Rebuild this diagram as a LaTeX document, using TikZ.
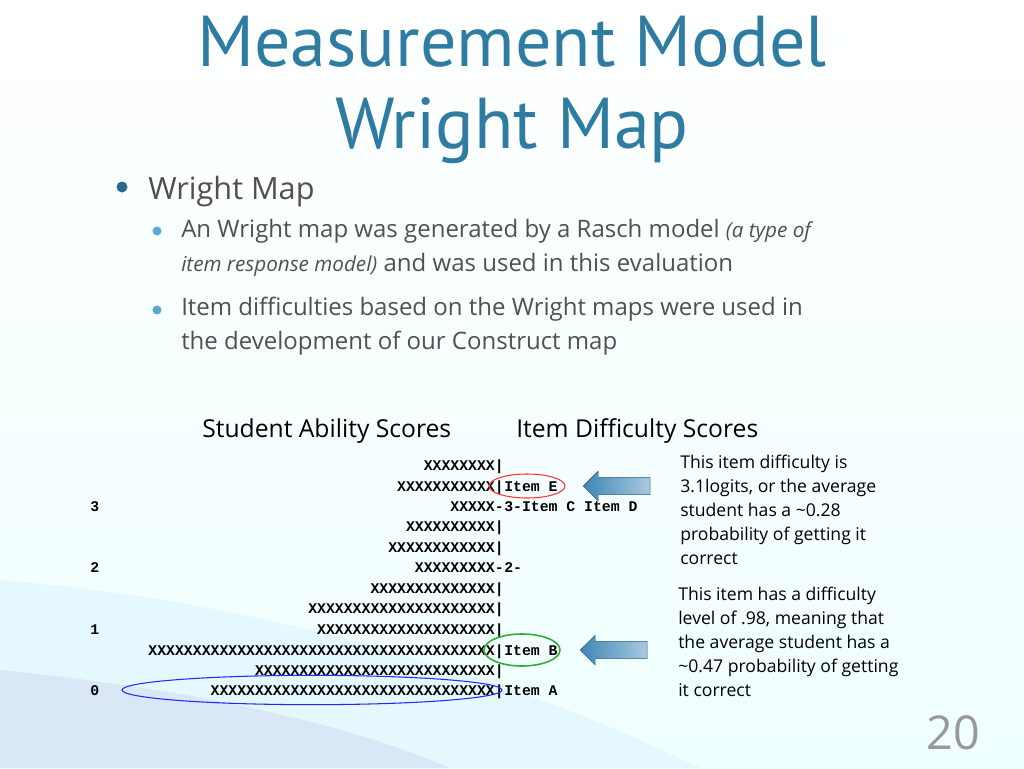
\documentclass[tikz,border=0pt]{standalone}
\usepackage{fontspec}
\setmainfont{Open Sans}
\newfontfamily\titlefont{PT Sans}
\newfontfamily\mapfont{Liberation Mono}
\usetikzlibrary{shapes.arrows,shapes.geometric}
\definecolor{titleblue}{HTML}{2F7CA3}
\definecolor{bodygray}{HTML}{505050}
\definecolor{dotblue}{HTML}{2A6A8C}
\definecolor{subdot}{HTML}{5BA9CF}
\definecolor{arrowblue}{HTML}{3F86B5}
\tikzset{
  maprow/.style={font=\mapfont\bfseries\fontsize{11.1}{12}\selectfont, inner sep=0pt, anchor=base east},
  mapitem/.style={font=\mapfont\bfseries\fontsize{11.1}{12}\selectfont, inner sep=0pt, anchor=base west},
  note/.style={font=\fontsize{13.2}{18}\selectfont, align=left, anchor=north west, inner sep=0pt, text=black},
  head/.style={font=\fontsize{18.5}{22}\selectfont, inner sep=0pt, anchor=base west},
  pointer/.style={single arrow, shape border rotate=180, draw=arrowblue!70!black, left color=arrowblue, right color=arrowblue!45, minimum height=50pt, minimum width=22pt, single arrow head extend=4pt, inner sep=5.5pt}
}
\begin{document}
\begin{tikzpicture}[x=0.75pt,y=-0.75pt]
	% background
	\shade[top color=white, bottom color=cyan!6] (0,0) rectangle (1024,768);
	\fill[cyan!15, opacity=.5] (0,580) .. controls (250,600) and (500,670) .. (700,768) -- (0,768) -- cycle;
	\fill[cyan!30!blue!20, opacity=.4] (0,670) .. controls (200,690) and (350,725) .. (450,768) -- (0,768) -- cycle;
	\useasboundingbox (0,0) rectangle (1024,768);
	
	% title and bullets
	\node[font=\titlefont\fontsize{54}{61}\selectfont, text=titleblue, align=center] (title) at (512,90) {Measurement Model\\Wright Map};
	\fill[dotblue] (122,187) circle (5.5);
	\node[font=\fontsize{23}{30}\selectfont, text=bodygray, anchor=base west, inner sep=0pt] (b1) at (148,199) {Wright Map};
	\fill[subdot] (157,231) circle (4.5);
	\fill[subdot] (157,310) circle (4.5);
	\node[font=\fontsize{18}{25.5}\selectfont, text=bodygray, anchor=north west, align=left, inner sep=0pt] (b2) at (181,219)
	  {An Wright map was generated by a Rasch model {\itshape\fontsize{15.5}{20}\selectfont (a type of}\\{\itshape\fontsize{15.5}{20}\selectfont item response model)} and was used in this evaluation};
	\node[font=\fontsize{18}{25.5}\selectfont, text=bodygray, anchor=north west, align=left, inner sep=0pt] (b3) at (181,297)
	  {Item difficulties based on the Wright maps were used in\\the development of our Construct map};
	
	% column heads
	\node[head] (hs) at (202,437) {Student Ability Scores};
	\node[head] (hi) at (516,437) {Item Difficulty Scores};
	
	% wright map rows
	\node[maprow] (r1) at (504,470) {XXXXXXXX|};
	\node[maprow] (r2) at (504,491) {XXXXXXXXXXX|};
	\node[mapitem] (i2) at (r2.base east) {Item E};
	\node[maprow] (r3) at (504,511) {XXXXX-};
	\node[mapitem] (i3) at (r3.base east) {3-Item C Item D};
	\node[maprow] (r4) at (504,531) {XXXXXXXXXX|};
	\node[maprow] (r5) at (504,552) {XXXXXXXXXXXX|};
	\node[maprow] (r6) at (504,572) {XXXXXXXXX-};
	\node[mapitem] (i6) at (r6.base east) {2-};
	\node[maprow] (r7) at (504,593) {XXXXXXXXXXXXXX|};
	\node[maprow] (r8) at (504,613) {XXXXXXXXXXXXXXXXXXXXX|};
	\node[maprow] (r9) at (504,634) {XXXXXXXXXXXXXXXXXXXX|};
	\node[maprow] (r10) at (504,655) {XXXXXXXXXXXXXXXXXXXXXXXXXXXXXXXXXXXXXXX|};
	\node[mapitem] (i10) at (r10.base east) {Item B};
	\node[maprow] (r11) at (504,675) {XXXXXXXXXXXXXXXXXXXXXXXXXXX|};
	\node[maprow] (r12) at (504,695) {XXXXXXXXXXXXXXXXXXXXXXXXXXXXXXXX|};
	\node[mapitem] (i12) at (r12.base east) {Item A};
	\node[mapitem] (s3) at (90,511) {3};
	\node[mapitem] (s2) at (90,572) {2};
	\node[mapitem] (s1) at (90,634) {1};
	\node[mapitem] (s0) at (90,695) {0};
	
	% highlights
	\node[ellipse, draw=red!80, thick, minimum width=57pt, minimum height=18pt] (ce) at (527,486) {};
	\node[ellipse, draw=green!60!black!80, very thick, minimum width=57pt, minimum height=24pt] (cb) at (522,650) {};
	\node[ellipse, draw=blue!85, thick, minimum width=285pt, minimum height=22pt] (ca) at (312,690) {};
	\node[pointer] (pe) at (621,486) {};
	\node[pointer] (pb) at (618,650) {};
	
	% notes
	\node[note] (ne) at (680,455) {This item difficulty is\\3.1logits, or the average\\student has a \textasciitilde0.28\\probability of getting it\\correct};
	\node[note] (nb) at (678,587) {This item has a difficulty\\level of .98, meaning that\\the average student has a\\\textasciitilde0.47 probability of getting\\it correct};
	\node[font=\fontsize{35}{40}\selectfont, text=white!20!gray] (page) at (953,733) {20};
\end{tikzpicture}
\end{document}
